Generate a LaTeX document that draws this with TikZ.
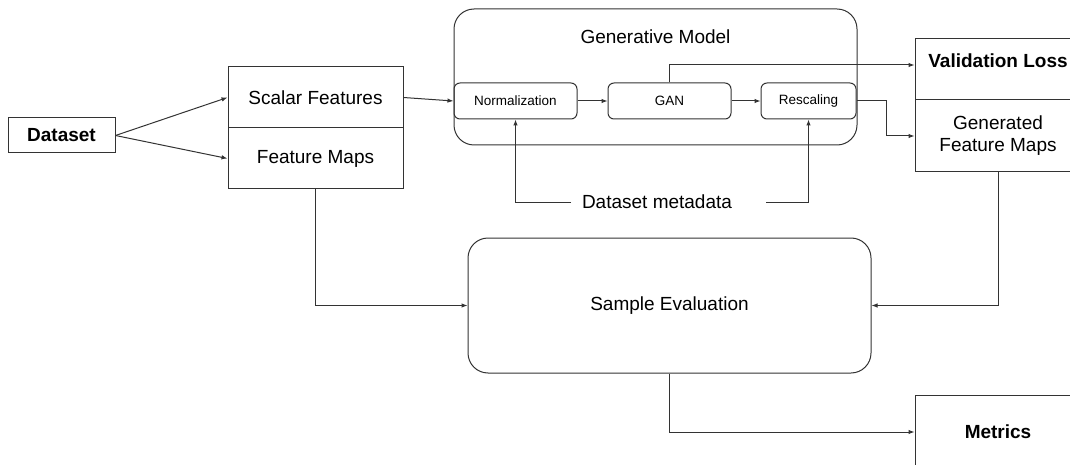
\documentclass[tikz,border=0pt]{standalone}
\usepackage{fontspec}
\setmainfont{Liberation Sans}
\usetikzlibrary{arrows.meta,calc}
\tikzset{
  ln/.style={draw=black!80, line width=1pt},
  arr/.style={ln, -{Latex[length=6pt,width=4.5pt]}},
  big/.style={font=\fontsize{19}{22}\selectfont},
  small/.style={font=\fontsize{13.5}{16}\selectfont},
  bigb/.style={font=\fontsize{19}{22}\selectfont\bfseries},
  sqbox/.style={ln, rectangle, inner sep=0pt, align=center},
  rbox/.style={ln, rectangle, rounded corners=6pt, inner sep=0pt, align=center, small},
  bigr/.style={ln, rectangle, rounded corners=20pt, inner sep=0pt, align=center},
}
\begin{document}
\begin{tikzpicture}[x=1pt,y=-1pt]
\useasboundingbox (0,0) rectangle (1070,465);
\clip (0,0) rectangle (1070,465);
% left
\node[sqbox,bigb,minimum width=107pt,minimum height=35pt] (dataset) at (61.5,135.5) {Dataset};
\node[sqbox,big,minimum width=175pt,minimum height=61pt] (scalar) at (315.5,97.5) {Scalar Features};
\node[sqbox,big,minimum width=175pt,minimum height=61pt] (fmaps) at (315.5,158.5) {Feature Maps};
% generative model
\node[bigr,minimum width=403pt,minimum height=136pt] (gen) at (655.5,77) {};
\node[big] (gentitle) at (655.5,37) {Generative Model};
\node[rbox,minimum width=123pt,minimum height=36pt] (norm) at (515.5,101) {Normalization};
\node[rbox,minimum width=123pt,minimum height=36pt] (gan) at (669.5,101) {GAN};
\node[rbox,minimum width=95pt,minimum height=36pt] (resc) at (808.5,101) {Rescaling};
\node[big] (meta) at (657,202) {Dataset metadata};
\coordinate (ml) at (571,202);
\coordinate (mr) at (766,202);
% right
\node[sqbox,bigb,minimum width=166pt,inner ysep=0pt,text height=29pt,text depth=32pt] (valloss) at (998,69.5) {Validation Loss};
\node[sqbox,big,minimum width=166pt,minimum height=72pt] (genfm) at (998,136) {Generated\\Feature Maps};
\node[bigr,big,minimum width=403pt,minimum height=135pt] (sample) at (669.5,305.5) {Sample Evaluation};
\node[sqbox,bigb,minimum width=166pt,minimum height=74pt] (metrics) at (998,432) {Metrics};
% connectors
\draw[arr] (dataset.east) -- (scalar.west);
\draw[arr] (dataset.east) -- (fmaps.west);
\draw[arr] (scalar.east) -- (norm.west);
\draw[arr] (norm.east) -- (gan.west);
\draw[arr] (gan.east) -- (resc.west);
\draw[arr] (ml) -| (norm.south);
\draw[arr] (mr) -| (resc.south);
\draw[arr] (gan.north) |- ([yshift=4.5pt]valloss.west);
\draw[arr] (resc.east) -- ++(30,0) |- (genfm.west);
\draw[arr] (fmaps.south) |- (sample.west);
\draw[arr] (genfm.south) |- (sample.east);
\draw[arr] (sample.south) |- (metrics.west);
\end{tikzpicture}
\end{document}
